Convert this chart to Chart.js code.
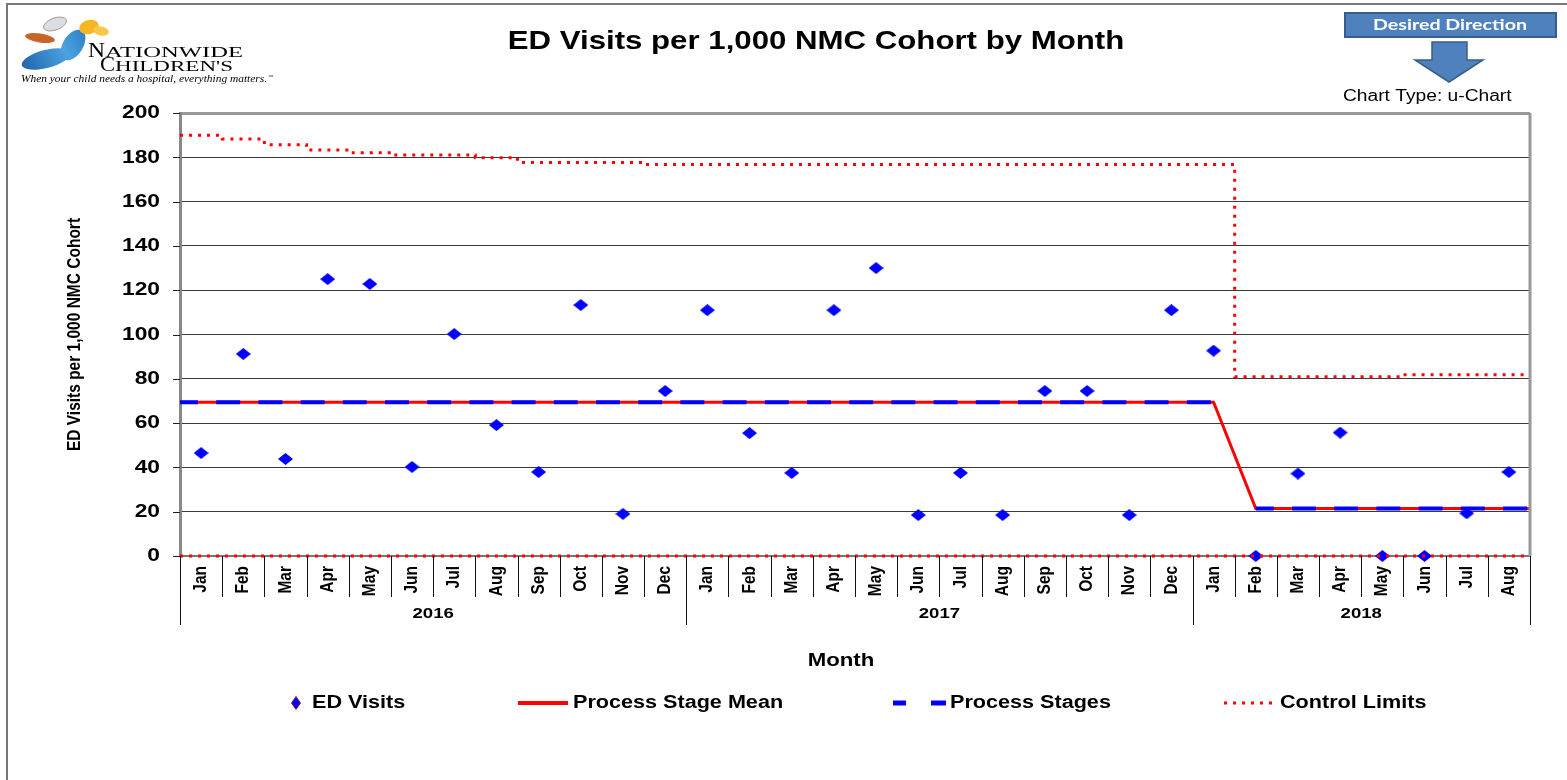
<!DOCTYPE html>
<html lang="en">
<head>
<meta charset="UTF-8">
<title>ED Visits per 1,000 NMC Cohort by Month</title>
<style>
  html, body { margin: 0; padding: 0; background: #fff; }
  #wrap { position: relative; width: 1567px; height: 780px; }
</style>
</head>
<body>
<div id="wrap"><canvas id="chart"></canvas></div>
<script src="https://cdn.jsdelivr.net/npm/chart.js"></script>
<script>
// ---- data ----
const months = ['Jan','Feb','Mar','Apr','May','Jun','Jul','Aug','Sep','Oct','Nov','Dec',
                'Jan','Feb','Mar','Apr','May','Jun','Jul','Aug','Sep','Oct','Nov','Dec',
                'Jan','Feb','Mar','Apr','May','Jun','Jul','Aug'];
const years = ['2016', '2017', '2018'];
const monthsPerYear = [12, 12, 8];

const edVisits = [46.5, 91.2, 43.8, 125, 122.8, 40.2, 100.2, 59.1, 37.9, 113.3, 19, 74.5,
                  111, 55.5, 37.5, 111, 130, 18.5, 37.5, 18.5, 74.5, 74.5, 18.5, 111,
                  92.7, 0, 37.2, 55.7, 0, 0, 19.3, 37.9];
const stageMean = [69.4, 69.4, 69.4, 69.4, 69.4, 69.4, 69.4, 69.4, 69.4, 69.4, 69.4, 69.4,
                   69.4, 69.4, 69.4, 69.4, 69.4, 69.4, 69.4, 69.4, 69.4, 69.4, 69.4, 69.4,
                   69.4, 21.4, 21.4, 21.4, 21.4, 21.4, 21.4, 21.4];
const upperLimit = [189.9, 188.3, 185.7, 183.3, 182.1, 181.0, 181.0, 179.8, 177.7, 177.7, 177.7, 176.8,
                    176.8, 176.8, 176.8, 176.8, 176.8, 176.8, 176.8, 176.8, 176.8, 176.8, 176.8, 176.8,
                    176.8, 80.9, 80.9, 80.9, 80.9, 81.8, 81.8, 81.8];
const lowerLimit = [0, 0, 0, 0, 0, 0, 0, 0, 0, 0, 0, 0,
                    0, 0, 0, 0, 0, 0, 0, 0, 0, 0, 0, 0,
                    0, 0, 0, 0, 0, 0, 0, 0];
const yMin = 0, yMax = 200, yStep = 20;

// ---- helpers ----
const SX = 1.2; // the source picture is a bit wider than tall
const SANS = '"Liberation Sans", Arial, sans-serif';
const SERIF = '"Liberation Serif", "DejaVu Serif", serif';
const last = months.length - 1;

function withEdges(vals) {
    const pts = vals.map((v, i) => ({ x: i, y: v }));
    return [{ x: -0.5, y: vals[0] }, ...pts, { x: last + 0.5, y: vals[last] }];
}

function stageSegments(vals) {
    const pts = [{ x: -0.5, y: vals[0] }];
    vals.forEach((v, i) => {
        if (i > 0 && v !== vals[i - 1]) pts.push({ x: i - 0.5, y: null });
        pts.push({ x: i, y: v });
    });
    pts.push({ x: last + 0.5, y: vals[last] });
    return pts;
}

function fontOf(size, opt) {
    return (opt.weight || 'bold') + ' ' + size + 'px ' + (opt.family || SANS);
}

function txt(ctx, s, x, y, size, opt) {
    opt = opt || {};
    ctx.save();
    ctx.font = fontOf(size, opt);
    let sx = opt.sx || SX;
    if (opt.width) sx = opt.width / ctx.measureText(s).width;
    ctx.translate(x, y);
    ctx.scale(sx, 1);
    if (opt.rot) ctx.rotate(opt.rot);
    ctx.fillStyle = opt.color || '#000';
    ctx.textAlign = opt.align || 'center';
    ctx.textBaseline = opt.baseline || 'middle';
    ctx.fillText(s, 0, 0);
    ctx.restore();
}

const diamond = document.createElement('canvas');
diamond.width = 15; diamond.height = 12;
(function () {
    const d = diamond.getContext('2d');
    d.fillStyle = '#0000ff';
    d.beginPath();
    d.moveTo(7.5, 0); d.lineTo(15, 6); d.lineTo(7.5, 12); d.lineTo(0, 6);
    d.closePath(); d.fill();
})();

function wing(ctx, cx, cy, rx, ry, rot, fill, stroke) {
    ctx.save();
    ctx.beginPath();
    ctx.ellipse(cx, cy, rx, ry, rot, 0, Math.PI * 2);
    ctx.fillStyle = fill;
    ctx.fill();
    if (stroke) { ctx.strokeStyle = stroke; ctx.lineWidth = 1; ctx.stroke(); }
    ctx.restore();
}

function drawLogo(ctx) {
    const g = ctx.createLinearGradient(20, 70, 90, 30);
    g.addColorStop(0, '#1f5fa8');
    g.addColorStop(0.6, '#4aa3e0');
    g.addColorStop(1, '#2a78c2');
    wing(ctx, 55, 24, 12, 6, -0.35, '#dcdce4', '#a89a88');
    wing(ctx, 40, 38, 15, 4.5, 0.15, '#c8642a');
    wing(ctx, 46, 59, 25, 9, -0.25, g);
    wing(ctx, 73, 45, 17, 10, -1.0, g);
    wing(ctx, 89, 27, 10, 7, -0.3, '#f2b722');
    wing(ctx, 101, 31, 8, 4.5, 0.2, '#f5c84a');
    const o = { weight: 'normal', family: SERIF, align: 'left', baseline: 'alphabetic' };
    txt(ctx, 'N', 88, 57, 21, Object.assign({ width: 17 }, o));
    txt(ctx, 'ATIONWIDE', 105, 57, 15, Object.assign({ width: 138 }, o));
    txt(ctx, 'C', 100, 71, 21, Object.assign({ width: 15 }, o));
    txt(ctx, "HILDREN'S", 115, 71, 15, Object.assign({ width: 118 }, o));
    txt(ctx, 'When your child needs a hospital, everything matters.', 21, 82, 10,
        { weight: 'italic', family: SERIF, align: 'left', baseline: 'alphabetic', width: 246 });
    txt(ctx, '\u2122', 268, 77, 5, { weight: 'normal', family: SERIF, align: 'left', sx: 1 });
}

function drawDirection(ctx) {
    ctx.save();
    ctx.fillStyle = '#4f81bd';
    ctx.strokeStyle = '#385d8a';
    ctx.lineWidth = 2;
    ctx.fillRect(1345, 13, 211, 24);
    ctx.strokeRect(1345, 13, 211, 24);
    ctx.beginPath();
    ctx.moveTo(1432, 42); ctx.lineTo(1467, 42); ctx.lineTo(1467, 60);
    ctx.lineTo(1483, 60); ctx.lineTo(1449, 82); ctx.lineTo(1415, 60);
    ctx.lineTo(1432, 60); ctx.closePath();
    ctx.fill();
    ctx.lineWidth = 1.5;
    ctx.stroke();
    ctx.restore();
    txt(ctx, 'Desired Direction', 1450, 25, 16,
        { family: 'Lato, "Open Sans", sans-serif', color: '#fff', width: 154 });
    txt(ctx, 'Chart Type: u-Chart', 1343, 97, 16, { align: 'left', weight: 'normal' });
}

const decorations = {
    id: 'decorations',
    afterDraw(chart) {
        const ctx = chart.ctx;
        const xs = chart.scales.x, ys = chart.scales.y;
        const area = chart.chartArea;

        // frame round the whole picture
        ctx.save();
        ctx.strokeStyle = '#777';
        ctx.lineWidth = 2;
        ctx.strokeRect(7, 4, 1640, 820);
        // right border of plot area
        ctx.strokeStyle = '#999';
        ctx.lineWidth = 3;
        ctx.beginPath();
        ctx.moveTo(area.right, area.top); ctx.lineTo(area.right, area.bottom);
        ctx.stroke();
        ctx.restore();

        txt(ctx, 'ED Visits per 1,000 NMC Cohort by Month', 816, 42, 26);
        drawLogo(ctx);
        drawDirection(ctx);

        // y ticks and labels
        ctx.save();
        ctx.strokeStyle = '#222';
        ctx.lineWidth = 1;
        ys.ticks.forEach(t => {
            const y = Math.round(ys.getPixelForValue(t.value)) + 0.5;
            ctx.beginPath(); ctx.moveTo(area.left - 7, y); ctx.lineTo(area.left, y); ctx.stroke();
        });
        ctx.restore();
        ys.ticks.forEach(t => {
            txt(ctx, String(t.value), 160, ys.getPixelForValue(t.value), 19, { align: 'right' });
        });
        txt(ctx, 'ED Visits per 1,000 NMC Cohort', 75, (area.top + area.bottom) / 2, 15.5,
            { rot: -Math.PI / 2 });

        // two-level month / year axis
        ctx.save();
        ctx.strokeStyle = '#111';
        ctx.lineWidth = 1;
        const yearEdges = [0];
        monthsPerYear.reduce((a, n) => { yearEdges.push(a + n); return a + n; }, 0);
        for (let i = 0; i <= months.length; i++) {
            const x = Math.round(xs.getPixelForValue(i - 0.5)) + 0.5;
            const long = yearEdges.includes(i);
            ctx.beginPath();
            ctx.moveTo(x, area.bottom);
            ctx.lineTo(x, long ? area.bottom + 69 : area.bottom + 41);
            ctx.stroke();
        }
        ctx.restore();
        months.forEach((m, i) => {
            txt(ctx, m, xs.getPixelForValue(i), area.bottom + 10, 15.5,
                { rot: -Math.PI / 2, align: 'right' });
        });
        years.forEach((yr, k) => {
            const a = xs.getPixelForValue(yearEdges[k] - 0.5);
            const b = xs.getPixelForValue(yearEdges[k + 1] - 0.5);
            txt(ctx, yr, (a + b) / 2, area.bottom + 58, 15.5);
        });
        txt(ctx, 'Month', 841, 661, 18.5);

        // legend
        const ly = 703;
        ctx.save();
        ctx.beginPath();
        ctx.moveTo(296, ly - 6.5); ctx.lineTo(300.5, ly); ctx.lineTo(296, ly + 6.5); ctx.lineTo(291.5, ly);
        ctx.closePath();
        ctx.fillStyle = '#0000ff'; ctx.fill();
        ctx.strokeStyle = '#8b1a1a'; ctx.lineWidth = 1; ctx.stroke();

        ctx.strokeStyle = '#ff0000'; ctx.lineWidth = 4;
        ctx.beginPath(); ctx.moveTo(518, ly); ctx.lineTo(568, ly); ctx.stroke();

        ctx.strokeStyle = '#0000ff'; ctx.lineWidth = 5;
        ctx.beginPath(); ctx.moveTo(893, ly); ctx.lineTo(906, ly); ctx.stroke();
        ctx.beginPath(); ctx.moveTo(931, ly); ctx.lineTo(946, ly); ctx.stroke();

        ctx.strokeStyle = '#ff0000'; ctx.lineWidth = 3; ctx.setLineDash([3, 6]);
        ctx.beginPath(); ctx.moveTo(1224, ly); ctx.lineTo(1276, ly); ctx.stroke();
        ctx.restore();
        txt(ctx, 'ED Visits', 312, ly, 18, { align: 'left' });
        txt(ctx, 'Process Stage Mean', 573, ly, 18, { align: 'left' });
        txt(ctx, 'Process Stages', 950, ly, 18, { align: 'left' });
        txt(ctx, 'Control Limits', 1280, ly, 18, { align: 'left' });
    }
};

new Chart(document.getElementById('chart'), {
    type: 'line',
    data: {
        datasets: [
            {
                label: 'Control Limits',
                data: withEdges(upperLimit),
                stepped: 'middle',
                borderColor: '#ff0000',
                borderWidth: 3,
                borderDash: [3, 6],
                pointRadius: 0,
                order: 0
            },
            {
                label: 'Lower Control Limit',
                data: withEdges(lowerLimit),
                stepped: 'middle',
                borderColor: '#ff0000',
                borderWidth: 3,
                borderDash: [3, 6],
                pointRadius: 0,
                clip: false,
                order: 0
            },
            {
                label: 'Process Stages',
                data: stageSegments(stageMean),
                borderColor: '#0000ff',
                borderWidth: 4,
                borderDash: [24, 18.2],
                borderDashOffset: 6,
                spanGaps: false,
                pointRadius: 0,
                order: 1
            },
            {
                label: 'ED Visits',
                data: edVisits.map((v, i) => ({ x: i, y: v })),
                showLine: false,
                pointStyle: diamond,
                pointRadius: 7,
                clip: false,
                order: 2
            },
            {
                label: 'Process Stage Mean',
                data: withEdges(stageMean),
                borderColor: '#ff0000',
                borderWidth: 3,
                pointRadius: 0,
                tension: 0,
                order: 3
            }
        ]
    },
    options: {
        responsive: true,
        maintainAspectRatio: false,
        animation: false,
        layout: { padding: { left: 0, right: 37, top: 113, bottom: 0 } },
        plugins: { legend: { display: false }, tooltip: { enabled: false }, title: { display: false } },
        scales: {
            x: {
                type: 'linear',
                min: -0.5,
                max: last + 0.5,
                ticks: { display: false },
                grid: { display: false },
                border: { display: false },
                afterFit: s => { s.height = 224; }
            },
            y: {
                min: yMin,
                max: yMax,
                ticks: { display: false, stepSize: yStep },
                grid: {
                    drawTicks: false,
                    color: c => c.tick.value === yMax ? '#999' : (c.tick.value === yMin ? '#777' : '#3a3a3a'),
                    lineWidth: c => c.tick.value === yMax ? 3 : (c.tick.value === yMin ? 2 : 1)
                },
                border: { color: '#888', width: 3 },
                afterFit: s => { s.width = 180; }
            }
        }
    },
    plugins: [decorations]
});
</script>
</body>
</html>
